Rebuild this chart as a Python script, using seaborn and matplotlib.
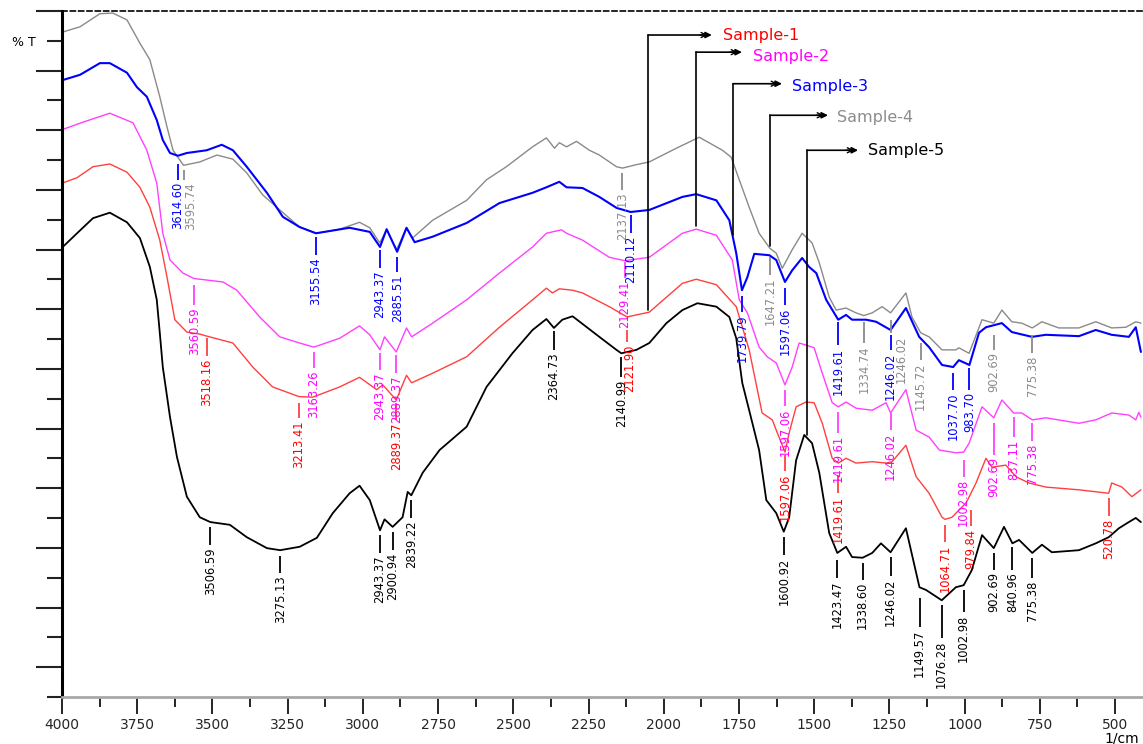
import matplotlib
matplotlib.use("Agg")
import matplotlib.pyplot as plt
import matplotlib.transforms as mtransforms
import numpy as np
import pandas as pd
import seaborn as sns

sns.set_theme(style="white")
plt.rcParams["font.family"] = ["DejaVu Sans"]

# FTIR spectra: (wavenumber 1/cm, %T)
sample1 = [(4000, 74.9), (3950, 75.7), (3897, 77.3), (3841, 77.7), (3784, 76.5), (3741, 74.3),
           (3708, 71.4), (3675, 66.6), (3651, 61.2), (3625, 55.0), (3585, 53.2), (3542, 52.9),
           (3518, 52.6), (3432, 51.6), (3366, 48.1), (3300, 45.2), (3213, 43.8), (3167, 43.7),
           (3077, 45.2), (3011, 46.6), (2954, 44.8), (2934, 45.5), (2889, 43.3), (2855, 46.9),
           (2838, 45.8), (2768, 47.2), (2655, 49.6), (2546, 53.9), (2436, 57.9), (2390, 59.6),
           (2370, 58.9), (2347, 59.5), (2303, 59.3), (2270, 58.9), (2181, 56.9), (2122, 55.4),
           (2048, 56.1), (1938, 60.3), (1892, 60.9), (1825, 60.1), (1759, 56.9), (1716, 50.6),
           (1673, 41.4), (1639, 40.4), (1626, 38.9), (1597, 35.7), (1583, 38.5), (1560, 42.3),
           (1527, 43.0), (1500, 42.9), (1473, 39.9), (1440, 34.8), (1420, 34.1), (1394, 34.8),
           (1361, 34.1), (1307, 34.3), (1261, 34.1), (1241, 34.3), (1195, 36.7), (1161, 32.1),
           (1118, 29.7), (1075, 26.2), (1065, 25.9), (1042, 26.2), (995, 28.3), (980, 29.6),
           (962, 31.2), (929, 34.8), (909, 33.5), (863, 33.8), (829, 32.1), (786, 31.2),
           (730, 30.6), (620, 30.2), (521, 29.7), (511, 31.2), (477, 30.6), (444, 29.2), (414, 30.2)]

sample2 = [(4000, 82.7), (3930, 83.8), (3841, 85.1), (3764, 83.7), (3718, 79.7), (3685, 74.9),
           (3665, 67.6), (3641, 63.7), (3598, 61.8), (3561, 61.0), (3465, 60.5), (3419, 59.3),
           (3343, 55.4), (3276, 52.5), (3210, 51.6), (3163, 51.0), (3077, 52.3), (3011, 54.1),
           (2977, 52.8), (2943, 50.6), (2928, 52.5), (2889, 50.3), (2855, 53.8), (2838, 52.5),
           (2768, 54.5), (2655, 57.9), (2546, 61.8), (2436, 65.6), (2390, 67.6), (2340, 68.1),
           (2323, 67.6), (2270, 66.6), (2181, 64.1), (2129, 63.6), (2048, 64.1), (1938, 67.6),
           (1892, 68.2), (1825, 67.3), (1772, 63.7), (1749, 57.9), (1722, 56.0), (1683, 51.0),
           (1656, 49.6), (1626, 48.7), (1597, 45.5), (1573, 48.1), (1550, 51.6), (1527, 51.3),
           (1500, 50.9), (1473, 47.2), (1440, 42.9), (1420, 42.3), (1394, 43.0), (1361, 42.1),
           (1307, 41.8), (1261, 42.9), (1246, 41.4), (1195, 44.8), (1161, 38.9), (1118, 37.9),
           (1084, 36.0), (1029, 35.6), (1003, 35.7), (985, 37.0), (942, 42.3), (903, 40.7),
           (876, 43.3), (837, 41.4), (810, 41.4), (775, 40.4), (730, 40.7), (620, 39.9),
           (564, 40.4), (511, 41.4), (454, 41.1), (431, 40.4), (421, 41.5), (414, 40.8)]

sample3 = [(4000, 89.9), (3940, 90.7), (3874, 92.4), (3841, 92.4), (3784, 91.0), (3751, 88.9),
           (3718, 87.5), (3685, 84.1), (3665, 81.2), (3641, 79.3), (3615, 78.9), (3585, 79.3),
           (3519, 79.7), (3469, 80.5), (3432, 79.7), (3386, 77.3), (3319, 73.5), (3266, 70.0),
           (3210, 68.5), (3156, 67.6), (3044, 68.4), (2977, 67.8), (2943, 65.6), (2921, 68.2),
           (2886, 64.9), (2855, 68.4), (2828, 66.3), (2768, 67.1), (2655, 69.1), (2546, 72.0),
           (2436, 73.5), (2390, 74.3), (2347, 75.1), (2323, 74.3), (2270, 74.2), (2214, 72.9),
           (2157, 71.3), (2110, 70.7), (2048, 71.0), (1938, 72.9), (1892, 73.3), (1825, 72.4),
           (1782, 69.5), (1759, 64.7), (1740, 59.3), (1722, 61.2), (1699, 64.6), (1649, 64.4),
           (1626, 63.7), (1597, 60.5), (1573, 62.2), (1540, 64.0), (1517, 62.7), (1493, 61.8),
           (1460, 57.9), (1420, 55.0), (1394, 55.7), (1374, 55.0), (1327, 55.0), (1294, 54.7),
           (1246, 53.5), (1195, 56.7), (1151, 52.5), (1118, 51.0), (1075, 48.4), (1038, 48.1),
           (1019, 49.1), (984, 48.4), (952, 53.1), (929, 53.9), (876, 54.5), (843, 53.2),
           (776, 52.5), (730, 52.8), (620, 52.6), (564, 53.5), (511, 52.8), (454, 52.5),
           (431, 53.9), (414, 50.3)]

sample4 = [(4000, 96.9), (3940, 97.7), (3874, 99.6), (3831, 99.7), (3784, 98.7), (3741, 95.3),
           (3708, 92.9), (3675, 87.5), (3651, 83.1), (3631, 79.7), (3596, 77.5), (3542, 78.0),
           (3485, 79.0), (3432, 78.4), (3386, 76.4), (3333, 73.2), (3276, 71.0), (3210, 68.5),
           (3153, 67.6), (3077, 68.2), (3011, 69.2), (2977, 68.4), (2944, 66.2), (2921, 68.1),
           (2888, 65.2), (2855, 68.4), (2835, 66.9), (2768, 69.5), (2655, 72.4), (2589, 75.4),
           (2523, 77.3), (2436, 80.2), (2390, 81.5), (2363, 80.0), (2347, 80.8), (2323, 80.2),
           (2290, 81.0), (2247, 79.7), (2214, 79.0), (2157, 77.3), (2137, 77.1), (2091, 77.6),
           (2048, 78.0), (1958, 80.0), (1882, 81.6), (1805, 79.7), (1776, 78.7), (1749, 75.4),
           (1716, 71.4), (1683, 67.6), (1647, 65.4), (1626, 64.7), (1606, 62.5), (1573, 65.2),
           (1540, 67.6), (1507, 66.2), (1483, 63.3), (1450, 58.3), (1427, 56.4), (1394, 56.7),
           (1361, 56.0), (1335, 55.6), (1307, 56.0), (1274, 56.9), (1246, 56.0), (1195, 58.9),
           (1175, 55.4), (1146, 53.1), (1118, 52.5), (1075, 50.6), (1029, 50.6), (1019, 50.9),
           (985, 50.1), (942, 55.0), (903, 54.5), (876, 56.4), (843, 54.7), (810, 54.5),
           (775, 53.8), (743, 54.7), (687, 53.8), (620, 53.8), (564, 54.7), (511, 53.8),
           (464, 53.9), (431, 54.7), (414, 54.5)]

sample5 = [(4000, 65.5), (3950, 67.6), (3897, 69.8), (3841, 70.6), (3784, 69.2), (3741, 66.9),
           (3708, 62.7), (3685, 57.9), (3675, 53.1), (3665, 48.1), (3641, 40.8), (3618, 35.0),
           (3585, 29.2), (3542, 26.2), (3507, 25.5), (3442, 25.1), (3386, 23.3), (3319, 21.7),
           (3275, 21.4), (3210, 21.9), (3153, 23.2), (3100, 26.8), (3044, 29.7), (3011, 30.8),
           (2977, 28.7), (2943, 24.3), (2928, 25.9), (2901, 24.8), (2868, 26.2), (2851, 29.9),
           (2839, 29.4), (2801, 32.7), (2745, 36.0), (2655, 39.4), (2589, 45.2), (2503, 50.1),
           (2436, 53.5), (2390, 55.1), (2365, 53.8), (2337, 55.0), (2303, 55.5), (2214, 52.5),
           (2157, 50.6), (2141, 50.1), (2091, 50.6), (2048, 51.6), (1991, 54.5), (1938, 56.4),
           (1888, 57.4), (1825, 56.9), (1782, 55.4), (1759, 52.3), (1739, 45.8), (1716, 41.8),
           (1683, 36.0), (1659, 28.7), (1626, 26.8), (1601, 24.1), (1583, 26.2), (1560, 34.5),
           (1533, 38.2), (1507, 37.0), (1483, 32.7), (1450, 23.9), (1423, 21.0), (1394, 21.9),
           (1374, 20.4), (1339, 20.3), (1307, 21.0), (1278, 22.4), (1246, 21.1), (1195, 24.6),
           (1150, 16.0), (1128, 15.6), (1076, 14.1), (1029, 16.0), (1003, 16.3), (976, 18.5),
           (942, 23.6), (903, 21.7), (869, 24.8), (841, 22.4), (819, 22.9), (775, 21.0),
           (743, 22.2), (710, 21.1), (620, 21.4), (564, 22.4), (521, 23.3), (487, 24.6),
           (454, 25.5), (431, 26.1), (414, 25.5)]

# Peak labels: wavenumber text, top and bottom of the leader line (%T),
# and an optional sideways nudge of the text in pixels
peaks1 = [("3518.16", 52.3, 49.7), ("3213.41", 42.9, 40.7), ("2889.37", 42.9, 40.4),
          ("2121.90", 53.5, 51.7, 3), ("1597.06", 35.3, 32.9), ("1419.61", 32.4, 29.7),
          ("1064.71", 25.1, 22.6), ("979.84", 27.3, 24.9), ("520.78", 29.0, 26.4)]
peaks2 = [("3560.59", 60.1, 57.1), ("3163.26", 50.3, 48.0), ("2943.37", 50.1, 47.7),
          ("2889.37", 49.9, 47.2), ("2129.41", 63.4, 61.1), ("1597.06", 44.8, 42.4),
          ("1419.61", 41.5, 38.5), ("1246.02", 41.4, 38.9), ("1002.98", 34.5, 32.1),
          ("902.69", 39.9, 35.3), ("837.11", 40.8, 37.9), ("775.38", 39.9, 37.3)]
peaks3 = [("3614.60", 77.7, 75.4), ("3155.54", 67.1, 64.4), ("2943.37", 65.2, 62.5),
          ("2885.51", 64.1, 62.0), ("2110.12", 70.3, 67.6), ("1739.79", 58.5, 56.1),
          ("1597.06", 59.6, 57.1), ("1419.61", 54.7, 51.3), ("1246.02", 52.8, 50.6),
          ("1037.70", 47.2, 44.8), ("983.70", 48.0, 44.8)]
peaks4 = [("3595.74", 76.8, 75.4, 7), ("2137.13", 76.4, 73.9), ("1647.21", 64.1, 61.5),
          ("1334.74", 54.7, 51.6), ("1246.02", 55.0, 53.1, 11), ("1145.72", 51.6, 49.1),
          ("902.69", 52.8, 50.6), ("775.38", 52.8, 50.1)]
peaks5 = [("3506.59", 24.8, 22.2), ("3275.13", 20.6, 18.1), ("2943.37", 23.6, 21.0),
          ("2900.94", 24.1, 21.4), ("2839.22", 28.7, 26.1), ("2364.73", 53.3, 50.6),
          ("2140.99", 49.6, 46.6), ("1600.92", 23.3, 20.7), ("1423.47", 20.0, 17.3),
          ("1338.60", 19.5, 17.1), ("1246.02", 20.4, 17.6), ("1149.57", 14.4, 10.2),
          ("1076.28", 13.4, 8.6), ("1002.98", 15.6, 12.4), ("902.69", 21.0, 18.5),
          ("840.96", 21.9, 18.5), ("775.38", 20.3, 17.3)]

# name, points, peaks, line colour, text colour, line width (drawing order: back to front)
series = [
    ("Sample-4", sample4, peaks4, "#8a8a8a", "#8c8c8c", 1.0),
    ("Sample-3", sample3, peaks3, "#0000ff", "#0000ff", 1.5),
    ("Sample-2", sample2, peaks2, "#ff40ff", "#ff00ff", 1.0),
    ("Sample-1", sample1, peaks1, "#ff4040", "#ff0000", 1.0),
    ("Sample-5", sample5, peaks5, "#000000", "#000000", 1.3),
]

# Callout layout: vertical x, arrow y, arrow tip x, text x, text y
callouts = {
    "Sample-1": (2052, 96.5, 1840, 1803, 96.4),
    "Sample-2": (1893, 94.0, 1740, 1703, 93.4),
    "Sample-3": (1770, 89.4, 1607, 1574, 89.0),
    "Sample-4": (1647, 84.8, 1454, 1424, 84.5),
    "Sample-5": (1524, 79.7, 1354, 1321, 79.6),
}

frames = []
for name, pts, _, _, _, _ in series:
    d = pd.DataFrame(pts, columns=["wavenumber", "T"])
    d["sample"] = name
    frames.append(d)
spectra = pd.concat(frames, ignore_index=True)

fig = plt.figure(figsize=(11.43, 7.44), dpi=100)
ax = fig.add_axes([62 / 1143, 47 / 744, 1081 / 1143, 686 / 744])

for name, pts, peaks, lc, tc, lw in series:
    sub = spectra[spectra["sample"] == name]
    sns.lineplot(data=sub, x="wavenumber", y="T", color=lc, lw=lw, sort=False,
                 estimator=None, ax=ax, legend=False)

for name, pts, peaks, lc, tc, lw in series:
    for item in peaks:
        label, y0, y1 = item[:3]
        dx = item[3] if len(item) > 3 else 0
        x = float(label)
        ax.plot([x, x], [y0, y1], color=lc, lw=1.3, solid_capstyle="butt")
        tr = mtransforms.offset_copy(ax.transData, fig=fig, x=dx, y=0, units="dots")
        ax.text(x, y1 - 0.35, label, rotation=90, ha="center", va="top",
                color=tc, fontsize=8.3, transform=tr)

for name, pts, peaks, lc, tc, lw in series:
    vx, ay, tip, tx, ty = callouts[name]
    wn = np.array([p[0] for p in pts], dtype=float)
    tv = np.array([p[1] for p in pts], dtype=float)
    ybot = np.interp(vx, wn[::-1], tv[::-1]) + 0.4
    ax.plot([vx, vx], [ybot, ay], color="black", lw=1.2)
    ax.annotate("", xy=(tip, ay), xytext=(vx, ay),
                arrowprops=dict(arrowstyle="-|>", color="black", lw=1.2,
                                mutation_scale=9, shrinkA=0, shrinkB=0))
    ax.annotate("", xy=(tip + 14, ay), xytext=(tip + 40, ay),
                arrowprops=dict(arrowstyle="->", color="black", lw=1.0,
                                mutation_scale=9, shrinkA=0, shrinkB=0))
    ax.text(tx, ty, name, color=tc, fontsize=11.5, ha="left", va="center")

ax.set_xlim(4000, 407)
ax.set_ylim(0, 100)
ax.set_xlabel("")
ax.set_ylabel("")

ax.set_xticks(np.arange(4000, 499, -250))
ax.set_xticks(np.arange(3875, 400, -250), minor=True)
ax.set_xticklabels([str(v) for v in np.arange(4000, 499, -250)])
yt = np.linspace(100, 0, 24)
ax.set_yticks(yt[::2])
ax.set_yticks(yt[1::2], minor=True)
ax.set_yticklabels([])

ax.tick_params(axis="x", which="major", direction="out", length=12, width=1.2,
               color="black", labelsize=10, pad=3, bottom=True)
ax.tick_params(axis="x", which="minor", direction="out", length=7, width=1.2,
               color="black", bottom=True)
ax.tick_params(axis="y", which="major", direction="out", length=19, width=1.5,
               color="#222222", left=True)
ax.tick_params(axis="y", which="minor", direction="out", length=11, width=1.5,
               color="#222222", left=True)

for side in ("left", "bottom", "top", "right"):
    ax.spines[side].set_visible(True)
ax.spines["left"].set_color("black")
ax.spines["left"].set_linewidth(2.2)
ax.spines["bottom"].set_color("#a8a8a8")
ax.spines["bottom"].set_linewidth(2.0)
ax.spines["top"].set_color("black")
ax.spines["top"].set_linewidth(1.2)
ax.spines["top"].set_linestyle((0, (3, 2)))
ax.spines["right"].set_visible(False)
ax.grid(False)

fig.text(12 / 1143, 1 - 42 / 744, "% T", fontsize=9, ha="left", va="center", color="black")
fig.text(1104 / 1143, 1 - 738 / 744, "1/cm", fontsize=10, ha="left", va="center", color="black")

fig.savefig("out.png", dpi=100, facecolor="white")
